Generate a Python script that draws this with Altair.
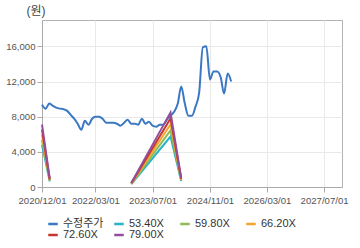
import altair as alt
import pandas as pd

FONT = "Liberation Sans, Noto Sans CJK KR, sans-serif"

series_names = ["수정주가", "53.40X", "59.80X", "66.20X", "72.60X", "79.00X"]
series_colors = ["#3b78c4", "#2ab3c2", "#8fbb55", "#f0a732", "#c8352e", "#924f9c"]

price_start = "2020-12-01"
price = [9370, 8915, 9490, 9260, 9030, 8915, 8860, 8690, 8230, 7770,
         7200, 6510, 7540, 7090, 7770, 8000, 8000, 7770, 7310, 7310,
         7310, 7200, 6970, 7310, 7660, 7200, 7200, 7090, 7770, 7200,
         7430, 6970, 6860, 7090, 7090, 7660, 8110, 8570, 9490, 11430,
         9490, 8110, 8110, 9140, 10740, 15890, 16000, 12230, 13140, 13140,
         12460, 10630, 12910, 12000]

band_seg1_dates = ["2020-12-01", "2021-02-05"]
band_seg2_dates = ["2023-01-01", "2023-12-01", "2024-03-01"]
band_seg1 = {
    "53.40X": [4810, 640],
    "59.80X": [5380, 720],
    "66.20X": [5960, 790],
    "72.60X": [6530, 870],
    "79.00X": [7110, 950],
}
band_seg2 = {
    "53.40X": [320, 5740, 690],
    "59.80X": [360, 6430, 780],
    "66.20X": [400, 7120, 860],
    "72.60X": [440, 7800, 940],
    "79.00X": [470, 8490, 1030],
}

x_ticks = ["2020-12-01", "2022-03-01", "2023-07-01", "2024-11-01", "2026-03-01", "2027-07-01"]
y_ticks = [0, 4000, 8000, 12000, 16000]

price_dates = pd.date_range(price_start, periods=len(price), freq="MS")
price_df = pd.DataFrame({"date": price_dates, "value": price,
                         "series": "수정주가", "seg": "p"})

rows = []
for name in series_names[1:]:
    for d, v in zip(band_seg1_dates, band_seg1[name]):
        rows.append({"date": pd.Timestamp(d), "value": v, "series": name, "seg": name + "-1"})
    for d, v in zip(band_seg2_dates, band_seg2[name]):
        rows.append({"date": pd.Timestamp(d), "value": v, "series": name, "seg": name + "-2"})
band_df = pd.DataFrame(rows)

x_enc = alt.X("date:T",
              scale=alt.Scale(domain=["2020-12-01", "2027-12-01"]),
              axis=alt.Axis(values=[pd.Timestamp(t).isoformat() for t in x_ticks],
                            format="%Y/%m/%d", title=None, labelAngle=0,
                            labelOverlap=False, labelFlush=False, labelFontSize=9.6,
                            labelPadding=3, tickSize=5))
y_enc = alt.Y("value:Q",
              scale=alt.Scale(domain=[0, 19000], nice=False),
              axis=alt.Axis(values=y_ticks, format=",d", title="(원)",
                            titleAngle=0, titleX=-16, titleY=-10,
                            titleAlign="left", titleBaseline="middle",
                            titleFontSize=12, titleFontWeight="normal",
                            titleColor="#444", labelPadding=2, tickSize=5,
                            labelFlush=False, labelFontSize=9.6))
color_enc = alt.Color("series:N",
                      scale=alt.Scale(domain=series_names, range=series_colors),
                      legend=alt.Legend(title=None, orient="none", legendX=5, legendY=198,
                                        columns=4, direction="horizontal",
                                        symbolType="stroke", symbolSize=90,
                                        symbolStrokeWidth=2.5, labelFontSize=11,
                                        labelColor="#333", labelOffset=4,
                                        columnPadding=5, rowPadding=0,
                                        gridAlign="all", labelFont=FONT))

price_line = alt.Chart(price_df).mark_line(strokeWidth=2, interpolate="monotone").encode(
    x=x_enc, y=y_enc, color=color_enc, detail="seg:N")
band_lines = alt.Chart(band_df).mark_line(strokeWidth=2).encode(
    x=x_enc, y=y_enc, color=color_enc, detail="seg:N",
    order=alt.Order("date:T"))

chart = (price_line + band_lines).properties(
    width=300, height=167,
    autosize=alt.AutoSizeParams(type="none"),
    padding={"left": 42, "top": 20, "right": 18, "bottom": 61},
).configure_view(stroke="#b3b3b3", strokeWidth=1).configure_axis(
    labelFont=FONT, titleFont=FONT, labelColor="#555",
    gridColor="#e9e9e9", domainColor="#aaaaaa", tickColor="#aaaaaa",
).configure_legend(labelFont=FONT)

chart.save("out.html", embed_options={"renderer": "svg", "actions": False})
